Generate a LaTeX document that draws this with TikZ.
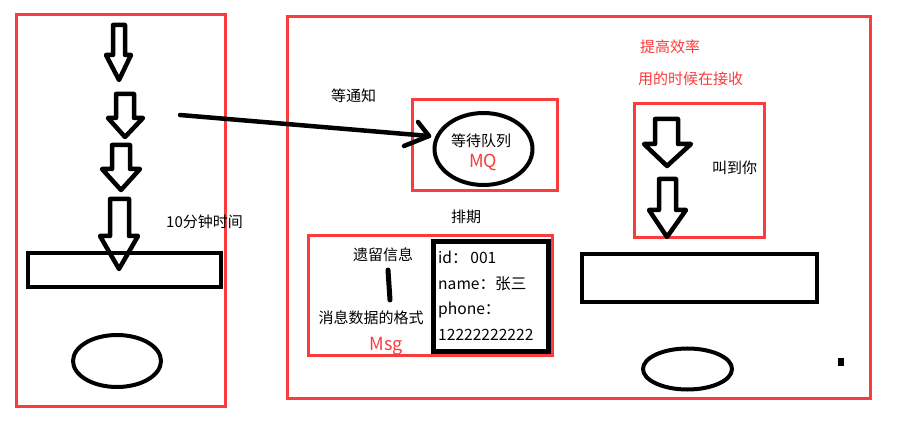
\documentclass[tikz,border=0pt]{standalone}
\usepackage{fontspec}
\setmainfont{Noto Sans CJK SC}
\usetikzlibrary{arrows.meta,shapes.geometric}
\definecolor{redline}{RGB}{250,60,60}
\begin{document}
\begin{tikzpicture}[x=1pt,y=-1pt,
  redbox/.style={draw=redline,line width=3pt},
  blackbox/.style={draw=black,line width=4.5pt},
  blockarrow/.style={draw=black,line width=4.5pt,line join=round},
  oval/.style={draw=black,line width=4pt,ellipse,inner sep=0pt},
  lbl/.style={font=\fontsize{15}{17}\selectfont,inner sep=0pt},
  datalbl/.style={font=\fontsize{15.6}{17}\selectfont,inner sep=0pt},
  redlbl/.style={lbl,text=redline},
  bigred/.style={font=\fontsize{18}{20}\selectfont,inner sep=0pt,text=redline}]
\useasboundingbox (0,0) rectangle (916,438);
\fill[white] (0,0) rectangle (916,438);

% red frames
\draw[redbox] (16.5,14.5) rectangle (225.5,406.5);
\draw[redbox] (287.5,16.5) rectangle (870.5,398.5);
\draw[redbox] (412.5,99.5) rectangle (557.5,190.5);
\draw[redbox] (308.5,235.5) rectangle (552.5,355.5);
\draw[redbox] (634.5,103.5) rectangle (764.5,237.5);

% left column
\draw[blockarrow] (113,25) -- (125,25) -- (125,55) -- (131,55) -- (119,80) -- (106,55) -- (113,55) -- cycle;
\draw[blockarrow] (116,94) -- (134,94) -- (134,118) -- (143,118) -- (125,137) -- (108,118) -- (116,118) -- cycle;
\draw[blockarrow] (112,145) -- (130,145) -- (130,169) -- (140,169) -- (121,190) -- (102,169) -- (112,169) -- cycle;
\draw[blockarrow] (110,199) -- (129,199) -- (129,236) -- (138,236) -- (119,269) -- (100,236) -- (110,236) -- cycle;
\draw[blackbox] (28,253) rectangle (221,287);
\node[oval,minimum width=88pt,minimum height=52pt] (oleft) at (117,361) {};
\node[lbl,anchor=west] (t10) at (166,222) {10分钟时间};

% notification arrow
\coordinate (nstart) at (180,115);
\coordinate (ntip) at (429,136);
\coordinate (barbA) at (418,122);
\coordinate (barbB) at (404,146);
\draw[line width=4.5pt,line cap=round] (nstart) -- (ntip);
\draw[line width=4.5pt,line cap=round,line join=round] (barbA) -- (ntip) -- (barbB);
\node[lbl,anchor=west] (tnotify) at (331,96) {等通知};

% MQ
\node[oval,minimum width=98pt,minimum height=72pt] (mq) at (483.5,149) {};
\node[lbl] (tqueue) at (481,141) {等待队列};
\node[bigred] (tmq) at (483,162) {MQ};

% Msg
\node[lbl] (tsched) at (466,217) {排期};
\draw[line width=5pt,line cap=round] (388,270) -- (390,300);
\node[lbl] (tlegacy) at (383,255) {遗留信息};
\node[lbl] (tformat) at (371,318) {消息数据的格式};
\node[bigred] (tmsg) at (386,346) {Msg};
\draw[line width=5pt] (433.5,241.5) rectangle (548.5,351.5);
\node[datalbl,anchor=west] (tid) at (438,257) {id：\,001};
\node[datalbl,anchor=west] (tname) at (438,284) {name：张三};
\node[datalbl,anchor=west] (tphone) at (438,310) {phone：};
\node[datalbl,anchor=west] (tnum) at (438,335) {12222222222};

% right column
\node[redlbl,anchor=west] (teff) at (640,47) {提高效率};
\node[redlbl,anchor=west] (trecv) at (638,79) {用的时候在接收};
\draw[blockarrow] (655,119) -- (678,119) -- (678,144) -- (691,144) -- (667,166) -- (644,144) -- (655,144) -- cycle;
\draw[blockarrow] (659,179) -- (676,179) -- (676,210) -- (686,210) -- (667,237) -- (649,210) -- (659,210) -- cycle;
\node[lbl,anchor=west] (tcall) at (712,168) {叫到你};
\draw[blackbox] (582,254) rectangle (817,302);
\node[oval,minimum width=89pt,minimum height=41pt] (oright) at (687.5,369) {};
\fill[black] (838,358) rectangle (844,366);
\end{tikzpicture}
\end{document}
